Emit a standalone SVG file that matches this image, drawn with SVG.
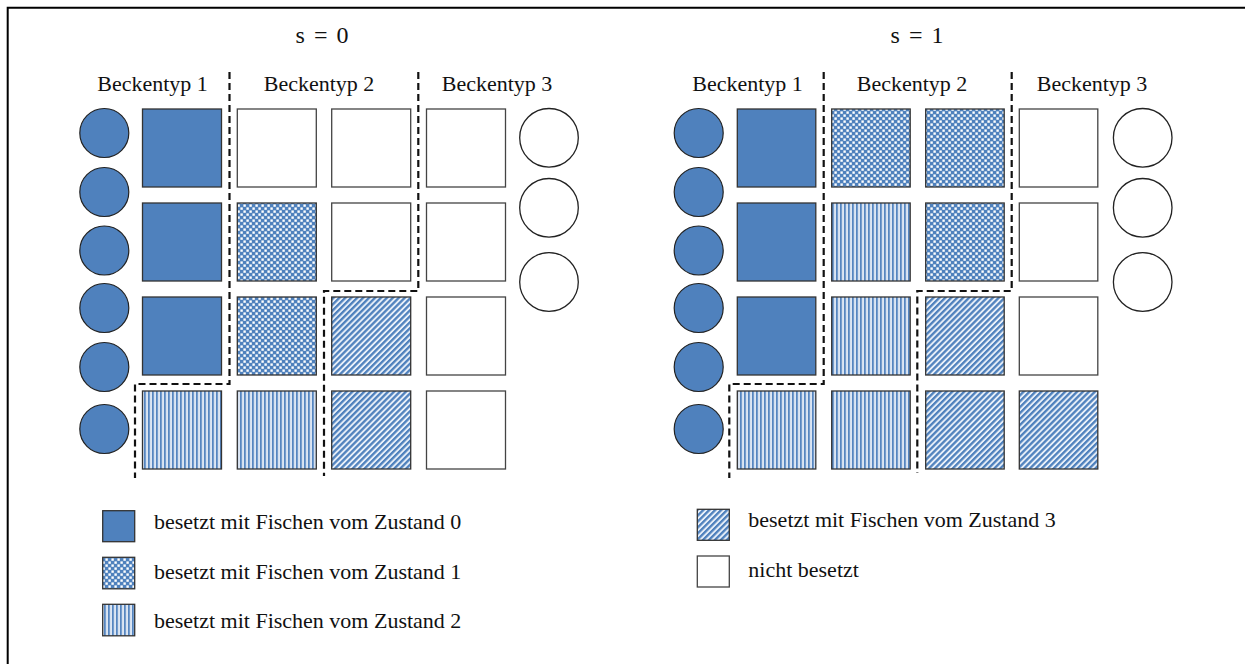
<svg xmlns="http://www.w3.org/2000/svg" width="1245" height="664" viewBox="0 0 1245 664">
  <style>
    .lbl { font-family: "Liberation Serif", "Times New Roman", serif; font-size: 22px; fill: #111; }
    .ttl { font-family: "Liberation Serif", "Times New Roman", serif; font-size: 24px; fill: #111; word-spacing: 3px; }
    .cell { stroke: #333; stroke-width: 1.3; }
    .empty { fill: #fff; stroke: #444; stroke-width: 1.3; }
    .s0 { fill: #4F81BD; }
    .s1 { fill: url(#checker); }
    .s2 { fill: url(#vstripe); }
    .s3 { fill: url(#diag); }
    .fish { fill: #4F81BD; stroke: #222; stroke-width: 1.2; }
    .free { fill: #fff; stroke: #222; stroke-width: 1.3; }
    .sep { fill: none; stroke: #111; stroke-width: 2.2; stroke-dasharray: 7 4; }
  </style>
  <defs>
    <pattern id="checker" patternUnits="userSpaceOnUse" width="6" height="6">
      <rect width="6" height="6" fill="#4F81BD"/>
      <rect x="3.4" y="0.4" width="2.4" height="2.4" fill="#ffffff"/>
      <rect x="0.4" y="3.4" width="2.4" height="2.4" fill="#ffffff"/>
    </pattern>
    <pattern id="vstripe" patternUnits="userSpaceOnUse" width="4" height="4">
      <rect width="4" height="4" fill="#ffffff"/>
      <rect x="0" y="0" width="1.8" height="4" fill="#5585c0"/>
      <rect x="2.4" y="0" width="1.1" height="4" fill="#b9cde7"/>
    </pattern>
    <pattern id="diag" patternUnits="userSpaceOnUse" width="4.2" height="4.2" patternTransform="rotate(45)">
      <rect width="4.2" height="4.2" fill="#e9f0f9"/>
      <rect x="0" y="0" width="2.3" height="4.2" fill="#4F81BD"/>
    </pattern>
  </defs>

  <!-- frame (left and top edges) -->
  <path d="M7.7 664 V7.7 H1245" fill="none" stroke="#000" stroke-width="2"/>

  <!-- ===== s = 0 ===== -->
  <g id="panel-s0">
    <text class="ttl" x="322" y="43" text-anchor="middle">s = 0</text>
    <text class="lbl" x="152.5" y="91" text-anchor="middle">Beckentyp 1</text>
    <text class="lbl" x="319" y="91" text-anchor="middle">Beckentyp 2</text>
    <text class="lbl" x="497" y="91" text-anchor="middle">Beckentyp 3</text>

    <g id="fish-s0">
      <circle class="fish" cx="104.3" cy="133" r="24.5"/>
      <circle class="fish" cx="104.3" cy="192" r="24.5"/>
      <circle class="fish" cx="104.3" cy="250.5" r="24.5"/>
      <circle class="fish" cx="104.3" cy="308" r="24.5"/>
      <circle class="fish" cx="104.3" cy="367" r="24.5"/>
      <circle class="fish" cx="104.3" cy="429" r="24.5"/>
    </g>
    <g id="free-s0">
      <circle class="free" cx="549" cy="137.8" r="29.3"/>
      <circle class="free" cx="549" cy="207.8" r="29.3"/>
      <circle class="free" cx="549" cy="282" r="29.3"/>
    </g>

    <g id="tanks-s0">
      <rect class="cell s0" x="142.5" y="109" width="79" height="78"/>
      <rect class="empty" x="237.3" y="109" width="79" height="78"/>
      <rect class="empty" x="331.7" y="109" width="79" height="78"/>
      <rect class="empty" x="426.5" y="109" width="79" height="78"/>

      <rect class="cell s0" x="142.5" y="203" width="79" height="78"/>
      <rect class="cell s1" x="237.3" y="203" width="79" height="78"/>
      <rect class="empty" x="331.7" y="203" width="79" height="78"/>
      <rect class="empty" x="426.5" y="203" width="79" height="78"/>

      <rect class="cell s0" x="142.5" y="297" width="79" height="78"/>
      <rect class="cell s1" x="237.3" y="297" width="79" height="78"/>
      <rect class="cell s3" x="331.7" y="297" width="79" height="78"/>
      <rect class="empty" x="426.5" y="297" width="79" height="78"/>

      <rect class="cell s2" x="142.5" y="391" width="79" height="78"/>
      <rect class="cell s2" x="237.3" y="391" width="79" height="78"/>
      <rect class="cell s3" x="331.7" y="391" width="79" height="78"/>
      <rect class="empty" x="426.5" y="391" width="79" height="78"/>
    </g>
  </g>

  <!-- ===== s = 1 ===== -->
  <g id="panel-s1">
    <text class="ttl" x="917" y="43" text-anchor="middle">s = 1</text>
    <text class="lbl" x="747.5" y="91" text-anchor="middle">Beckentyp 1</text>
    <text class="lbl" x="912" y="91" text-anchor="middle">Beckentyp 2</text>
    <text class="lbl" x="1092" y="91" text-anchor="middle">Beckentyp 3</text>

    <g id="fish-s1">
      <circle class="fish" cx="698.7" cy="133" r="24.5"/>
      <circle class="fish" cx="698.7" cy="192" r="24.5"/>
      <circle class="fish" cx="698.7" cy="250.5" r="24.5"/>
      <circle class="fish" cx="698.7" cy="308" r="24.5"/>
      <circle class="fish" cx="698.7" cy="367" r="24.5"/>
      <circle class="fish" cx="698.7" cy="429" r="24.5"/>
    </g>
    <g id="free-s1">
      <circle class="free" cx="1142.7" cy="137.8" r="29.3"/>
      <circle class="free" cx="1142.7" cy="207.8" r="29.3"/>
      <circle class="free" cx="1142.7" cy="282" r="29.3"/>
    </g>

    <g id="tanks-s1">
      <rect class="cell s0" x="737.3" y="109" width="78.5" height="78"/>
      <rect class="cell s1" x="831.7" y="109" width="78.5" height="78"/>
      <rect class="cell s1" x="925.7" y="109" width="78.5" height="78"/>
      <rect class="empty" x="1019.3" y="109" width="78.5" height="78"/>

      <rect class="cell s0" x="737.3" y="203" width="78.5" height="78"/>
      <rect class="cell s2" x="831.7" y="203" width="78.5" height="78"/>
      <rect class="cell s1" x="925.7" y="203" width="78.5" height="78"/>
      <rect class="empty" x="1019.3" y="203" width="78.5" height="78"/>

      <rect class="cell s0" x="737.3" y="297" width="78.5" height="78"/>
      <rect class="cell s2" x="831.7" y="297" width="78.5" height="78"/>
      <rect class="cell s3" x="925.7" y="297" width="78.5" height="78"/>
      <rect class="empty" x="1019.3" y="297" width="78.5" height="78"/>

      <rect class="cell s2" x="737.3" y="391" width="78.5" height="78"/>
      <rect class="cell s2" x="831.7" y="391" width="78.5" height="78"/>
      <rect class="cell s3" x="925.7" y="391" width="78.5" height="78"/>
      <rect class="cell s3" x="1019.3" y="391" width="78.5" height="78"/>
    </g>
  </g>

  <!-- dashed borders between tank types -->
  <g id="separators">
    <path class="sep" d="M229.5 72 V384 H135 V478"/>
    <path class="sep" d="M418.3 72 V291 H324 V476"/>
    <path class="sep" d="M823.7 72 V384 H729.3 V478"/>
    <path class="sep" d="M1011.7 72 V291 H917.3 V473"/>
  </g>

  <!-- legend -->
  <g id="legend">
    <rect class="cell s0" x="102.7" y="510.7" width="32" height="31"/>
    <text class="lbl" x="154" y="529.3">besetzt mit Fischen vom Zustand 0</text>
    <rect class="cell s1" x="102.7" y="557.3" width="32" height="31.5"/>
    <text class="lbl" x="154" y="579.3">besetzt mit Fischen vom Zustand 1</text>
    <rect class="cell s2" x="102.7" y="604.3" width="32" height="31.5"/>
    <text class="lbl" x="154" y="628.3">besetzt mit Fischen vom Zustand 2</text>

    <rect class="cell s3" x="697.3" y="509.3" width="32" height="31"/>
    <text class="lbl" x="748.3" y="527.3">besetzt mit Fischen vom Zustand 3</text>
    <rect class="empty" x="697.3" y="556" width="32" height="31"/>
    <text class="lbl" x="748.3" y="577.3">nicht besetzt</text>
  </g>
</svg>
